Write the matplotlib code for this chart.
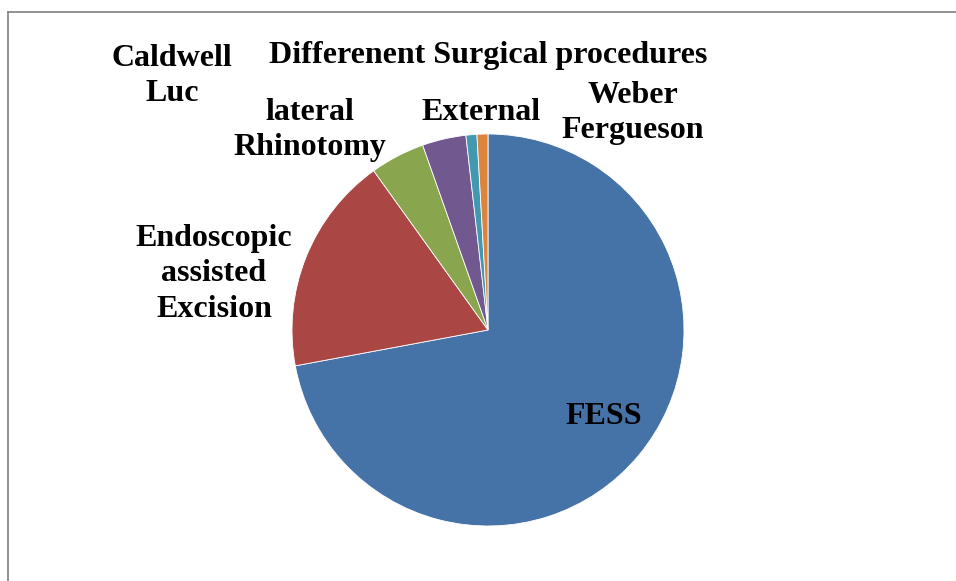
import matplotlib.pyplot as plt
from matplotlib.lines import Line2D

labels = ["FESS", "Endoscopic\nassisted\nExcision", "lateral\nRhinotomy",
          "External", "Caldwell\nLuc", "Weber\nFergueson"]
counts = [80, 20, 5, 4, 1, 1]
colors = ["#4572A7", "#AA4643", "#89A54E", "#71588F", "#4198AF", "#DB843D"]
title = "Differenent Surgical procedures"

# label centres in pixels (x from left, y from top)
label_pos = [(604, 416), (214, 274), (310, 130), (481, 112), (172, 76), (633, 113)]

W, H = 956, 581
fig = plt.figure(figsize=(W / 100, H / 100), dpi=100)
plt.rcParams['font.family'] = ['Liberation Serif', 'DejaVu Serif']

cx, cy, r = 488, 330, 196
ax = fig.add_axes([(cx - r) / W, (H - cy - r) / H, 2 * r / W, 2 * r / H])
ax.pie(counts, colors=colors, startangle=90, counterclock=False,
       wedgeprops=dict(edgecolor="white", linewidth=0.6))
ax.set_xlim(-1, 1)
ax.set_ylim(-1, 1)
ax.axis("off")

for lab, (x, y) in zip(labels, label_pos):
    fig.text(x / W, 1 - y / H, lab, ha="center", va="center",
             fontsize=23, fontweight="bold", linespacing=1.28)

fig.text(488 / W, 1 - 56 / H, title, ha="center", va="center",
         fontsize=23, fontweight="bold")

# chart frame (only top and left edges visible)
fig.add_artist(Line2D([8 / W, 8 / W], [0, 1 - 12 / H], color="#808080", lw=1.2))
fig.add_artist(Line2D([8 / W, 1], [1 - 12 / H, 1 - 12 / H], color="#808080", lw=1.2))

fig.savefig("out.png", dpi=100)
